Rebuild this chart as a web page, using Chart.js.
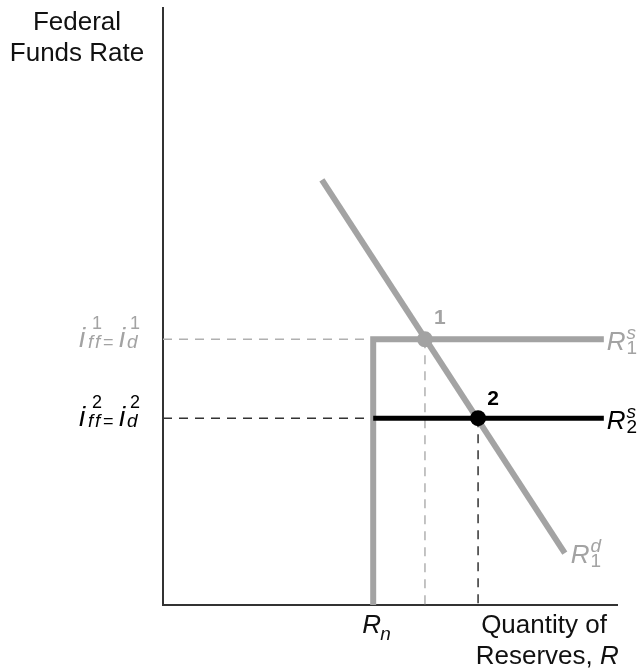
<!DOCTYPE html>
<html>
<head>
<meta charset="utf-8">
<script src="https://cdn.jsdelivr.net/npm/chart.js"></script>
<style>
  body { margin: 0; background: #fff; }
  canvas { display: block; }
</style>
</head>
<body>
<canvas id="chart" width="642" height="672"></canvas>
<script>
// valori (unità arbitrarie 0-100 su entrambi gli assi)
const rateLevels = [44.5, 31.3];      // i_ff^1 = i_d^1 , i_ff^2 = i_d^2
const reservesRn = 46.3;              // R_n
const equilibriumQ = [57.7, 69.4];    // punti 1 e 2
const demandQ = [35, 88.5];           // R_1^d (estremi)
const demandRate = [71.2, 8.7];
const supplyEndQ = 97.1;              // fine delle curve di offerta

const GRAY = "#a3a3a3";
const BLACK = "#000";

function seg(xs, ys) {
  return xs.map((x, i) => ({ x: x, y: ys[i] }));
}

const datasets = [
  // tratteggi
  { data: seg([0, reservesRn], [rateLevels[0], rateLevels[0]]), borderColor: "#b0b0b0", borderWidth: 1.5, borderDash: [9, 7], order: 5 },
  { data: seg([equilibriumQ[0], equilibriumQ[0]], [rateLevels[0], 0]), borderColor: "#b0b0b0", borderWidth: 1.5, borderDash: [9, 7], order: 5 },
  { data: seg([0, reservesRn], [rateLevels[1], rateLevels[1]]), borderColor: "#333", borderWidth: 1.5, borderDash: [9, 7], order: 5 },
  { data: seg([equilibriumQ[1], equilibriumQ[1]], [rateLevels[1], 0]), borderColor: "#333", borderWidth: 1.5, borderDash: [9, 7], order: 5 },
  // offerta R1s
  { data: seg([reservesRn, reservesRn, supplyEndQ], [0, rateLevels[0], rateLevels[0]]), borderColor: GRAY, borderWidth: 6, borderJoinStyle: "miter", order: 4 },
  // domanda R1d
  { data: seg(demandQ, demandRate), borderColor: GRAY, borderWidth: 6, order: 3 },
  // offerta R2s
  { data: seg([reservesRn, supplyEndQ], [rateLevels[1], rateLevels[1]]), borderColor: BLACK, borderWidth: 5, order: 2 },
  // equilibri
  { data: [{ x: equilibriumQ[0], y: rateLevels[0] }], showLine: false, pointRadius: 8, pointBackgroundColor: GRAY, pointBorderWidth: 0, order: 1 },
  { data: [{ x: equilibriumQ[1], y: rateLevels[1] }], showLine: false, pointRadius: 8, pointBackgroundColor: BLACK, pointBorderWidth: 0, order: 0 }
];
datasets.forEach(d => {
  d.showLine = d.showLine !== false;
  if (d.pointRadius === undefined) d.pointRadius = 0;
  d.borderCapStyle = "butt";
});

// testo con apice/pedice sovrapposti
function script(ctx, x, y, base, sup, sub, color, size, small) {
  ctx.fillStyle = color;
  ctx.font = "italic " + size + "px 'Liberation Sans'";
  ctx.fillText(base, x, y);
  let w = ctx.measureText(base).width;
  ctx.font = (isNaN(sup) ? "italic " : "") + small + "px 'Liberation Sans'";
  ctx.fillText(sup, x + w + 1, y - size * 0.42);
  let w1 = ctx.measureText(sup).width;
  ctx.font = (isNaN(sub) ? "italic " : "") + small + "px 'Liberation Sans'";
  ctx.fillText(sub, x + w + 1, y + small * 0.2);
  let w2 = ctx.measureText(sub).width;
  return x + w + 1 + Math.max(w1, w2);
}

const labels = {
  id: "labels",
  afterDraw(chart) {
    const ctx = chart.ctx;
    const xs = chart.scales.x, ys = chart.scales.y;
    ctx.save();
    ctx.textBaseline = "alphabetic";

    ctx.fillStyle = "#111";
    ctx.font = "26px 'Liberation Sans'";
    ctx.textAlign = "center";
    ctx.fillText("Federal", 77, 30);
    ctx.fillText("Funds Rate", 77, 61);
    ctx.fillText("Quantity of", 544, 633);
    ctx.textAlign = "left";
    const rw = ctx.measureText("Reserves, ").width;
    ctx.fillText("Reserves, ", 617 - rw - 17, 664);
    ctx.font = "italic 26px 'Liberation Sans'";
    ctx.fillText("R", 617 - 17, 664);

    // R_n
    const rnX = xs.getPixelForValue(reservesRn);
    ctx.font = "italic 26px 'Liberation Sans'";
    ctx.fillText("R", rnX - 11, 633);
    ctx.font = "italic 19px 'Liberation Sans'";
    ctx.fillText("n", rnX + 7, 640);

    // etichette delle curve
    const endX = xs.getPixelForValue(supplyEndQ) + 3;
    script(ctx, endX, ys.getPixelForValue(rateLevels[0]) + 11, "R", "s", "1", GRAY, 26, 19);
    script(ctx, endX, ys.getPixelForValue(rateLevels[1]) + 11, "R", "s", "2", BLACK, 26, 19);
    script(ctx, xs.getPixelForValue(demandQ[1]) + 6, ys.getPixelForValue(demandRate[1]) + 10, "R", "d", "1", GRAY, 26, 19);

    // numeri degli equilibri
    ctx.font = "bold 21px 'Liberation Sans'";
    ctx.textAlign = "center";
    ctx.fillStyle = GRAY;
    ctx.fillText("1", xs.getPixelForValue(equilibriumQ[0]) + 15, ys.getPixelForValue(rateLevels[0]) - 15);
    ctx.fillStyle = BLACK;
    ctx.fillText("2", xs.getPixelForValue(equilibriumQ[1]) + 15, ys.getPixelForValue(rateLevels[1]) - 13);

    // tassi sull'asse y: i^n_ff = i^n_d
    ctx.textAlign = "left";
    const colors = [GRAY, BLACK];
    rateLevels.forEach((r, i) => {
      const y = ys.getPixelForValue(r) + 8;
      const n = String(i + 1);
      const x0 = 79;
      ctx.fillStyle = colors[i];
      ctx.font = "italic 28px 'Liberation Sans'";
      ctx.fillText("i", x0, y);
      ctx.fillText("i", x0 + 40, y);
      ctx.font = "18px 'Liberation Sans'";
      ctx.fillText(n, x0 + 13, y - 18);
      ctx.fillText(n, x0 + 51, y - 18);
      ctx.fillText("=", x0 + 24, y + 1);
      ctx.font = "italic 19px 'Liberation Sans'";
      ctx.fillText("f", x0 + 9, y + 1);
      ctx.fillText("f", x0 + 16, y + 1);
      ctx.fillText("d", x0 + 48, y + 1);
    });
    ctx.restore();
  }
};

new Chart(document.getElementById("chart"), {
  type: "scatter",
  data: { datasets: datasets },
  options: {
    responsive: false,
    animation: false,
    devicePixelRatio: 1,
    layout: { padding: { left: 155, right: 25, top: 3, bottom: 59 } },
    plugins: { legend: { display: false }, tooltip: { enabled: false } },
    scales: {
      x: { type: "linear", min: 0, max: 100, ticks: { display: false }, grid: { display: false }, border: { color: "#333", width: 2 } },
      y: { type: "linear", min: 0, max: 100, ticks: { display: false }, grid: { display: false }, border: { color: "#333", width: 2 } }
    }
  },
  plugins: [labels]
});
</script>
</body>
</html>
